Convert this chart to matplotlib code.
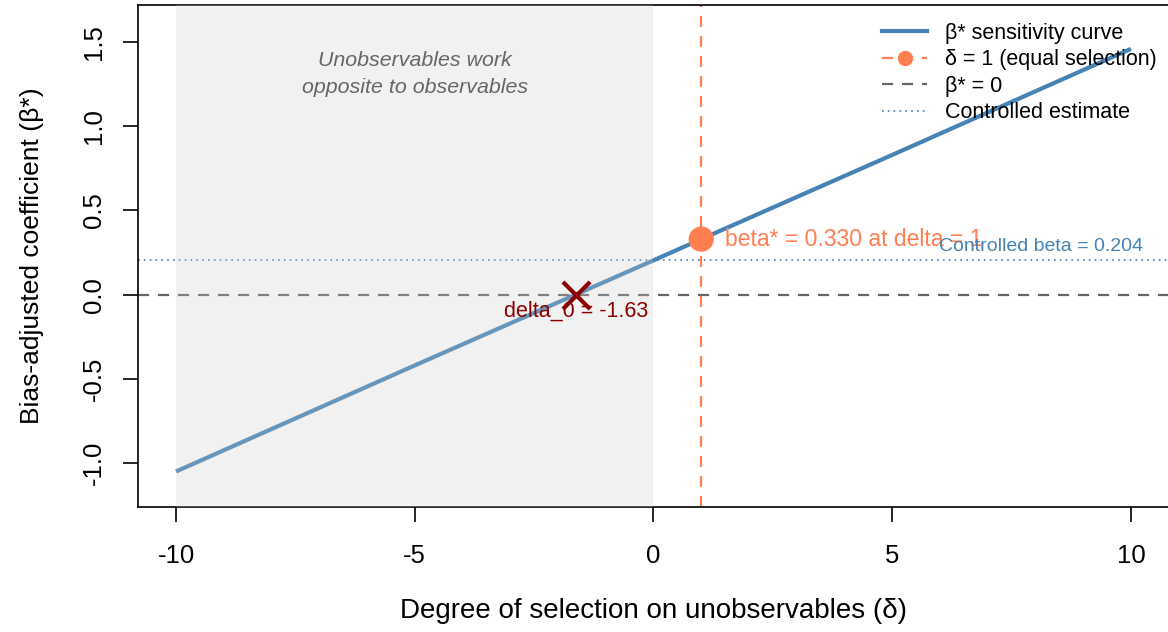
import matplotlib
matplotlib.use("Agg")
import matplotlib.pyplot as plt
from matplotlib.lines import Line2D

plt.rcParams['font.family'] = ['Liberation Sans', 'DejaVu Sans']

# 敏感性曲线 (读图所得)
delta_vals = [-10, -5, 0, 1, 5, 10]
beta_vals = [-1.05, -0.42, 0.204, 0.330, 0.83, 1.46]

delta_eq = 1
beta_at_eq = 0.330
beta_controlled = 0.204
delta_0 = -1.63
shade_range = [-10, 0]

x_ticks = [-10, -5, 0, 5, 10]
y_ticks = [-1.0, -0.5, 0.0, 0.5, 1.0, 1.5]

steel = '#4682B4'
coral = '#FF7F50'
darkred = '#8B0000'

fig = plt.figure(figsize=(11.68, 6.32), dpi=100)
ax = fig.add_axes([0.118, 0.198, 0.883, 0.794])

ax.plot(delta_vals, beta_vals, color=steel, lw=3, solid_capstyle='butt', zorder=2)
ax.axhline(0, color='#666666', lw=1.6, ls=(0, (5, 4)), zorder=2)
ax.axhline(beta_controlled, color=steel, lw=1.2, ls=(0, (1, 2.5)), zorder=2)
ax.axvline(delta_eq, color=coral, lw=1.6, ls=(0, (5, 4)), zorder=2)

# 阴影区域叠加在曲线上方
ax.axvspan(shade_range[0], shade_range[1], color='#CCCCCC', alpha=0.26, lw=0, zorder=3)

ax.scatter([delta_eq], [beta_at_eq], s=330, color=coral, zorder=5, edgecolors='none')
ax.scatter([delta_0], [0], s=380, marker='x', color=darkred, linewidths=3, zorder=5)

ax.text(-5, 1.39, 'Unobservables work', ha='center', va='center', fontsize=15.4,
        style='italic', color='#666666', zorder=6)
ax.text(-5, 1.23, 'opposite to observables', ha='center', va='center', fontsize=15.4,
        style='italic', color='#666666', zorder=6)
ax.text(delta_eq + 0.5, beta_at_eq, 'beta* = 0.330 at delta = 1', ha='left', va='center',
        fontsize=16.5, color=coral, zorder=6)
ax.text(10.25, beta_controlled + 0.03, 'Controlled beta = 0.204', ha='right', va='bottom',
        fontsize=14, color=steel, zorder=6)
ax.text(delta_0, -0.1, 'delta_0 = -1.63', ha='center', va='center',
        fontsize=15.5, color=darkred, zorder=6)

ax.set_xlim(-10.8, 10.8)
ax.set_ylim(-1.26, 1.72)
ax.set_xticks(x_ticks)
ax.set_xticklabels([str(t) for t in x_ticks])
ax.set_yticks(y_ticks)
ax.set_yticklabels([f'{t:.1f}' for t in y_ticks], rotation=90, va='center')
ax.tick_params(axis='both', direction='out', length=11, width=1.2, labelsize=18.5)
ax.tick_params(axis='x', pad=16)
ax.tick_params(axis='y', pad=12)
for s in ax.spines.values():
    s.set_linewidth(1.2)

ax.set_xlabel('Degree of selection on unobservables (δ)', fontsize=20, labelpad=21)
ax.set_ylabel('Bias-adjusted coefficient (β*)', fontsize=19, labelpad=27)

handles = [
    Line2D([], [], color=steel, lw=3),
    Line2D([], [], color=coral, lw=1.6, ls=(0, (5, 4)), marker='o', markersize=10),
    Line2D([], [], color='#666666', lw=1.6, ls=(0, (5, 4))),
    Line2D([], [], color=steel, lw=1.2, ls=(0, (1, 2.5))),
]
labels = ['β* sensitivity curve', 'δ = 1 (equal selection)', 'β* = 0', 'Controlled estimate']
ax.legend(handles, labels, loc='upper right', bbox_to_anchor=(1.0, 0.99), frameon=False,
          fontsize=15.5, handlelength=2.1, handletextpad=0.8, labelspacing=0.25,
          borderaxespad=0.2)

fig.savefig('out.png', dpi=100)
